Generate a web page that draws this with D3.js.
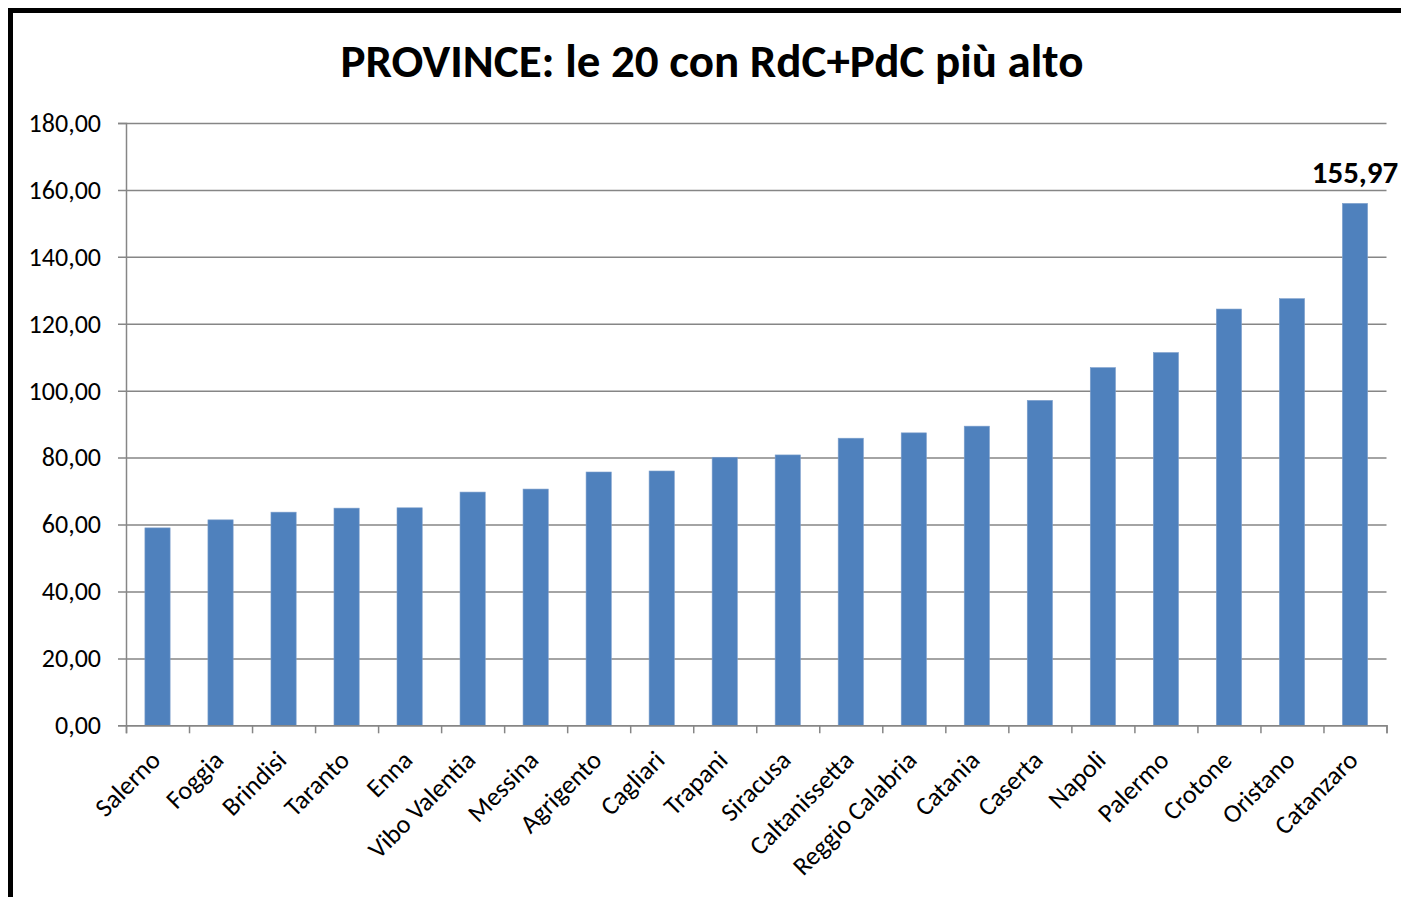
<!DOCTYPE html>
<html>
<head>
<meta charset="utf-8">
<script src="https://cdn.jsdelivr.net/npm/d3@7"></script>
<style>
  body { margin: 0; background: #fff; }
  svg text { font-family: Carlito, Calibri, Lato, sans-serif; fill: #000; }
</style>
</head>
<body>
<svg id="chart" width="1401" height="897"></svg>
<script>
'use strict';
const PROVINCES = ['Salerno', 'Foggia', 'Brindisi', 'Taranto', 'Enna', 'Vibo Valentia',
  'Messina', 'Agrigento', 'Cagliari', 'Trapani', 'Siracusa', 'Caltanissetta',
  'Reggio Calabria', 'Catania', 'Caserta', 'Napoli', 'Palermo', 'Crotone',
  'Oristano', 'Catanzaro'];
const VALUES = [59.0, 61.4, 63.7, 64.9, 65.0, 69.7, 70.6, 75.7, 76.0, 80.1,
  80.8, 85.8, 87.4, 89.4, 97.1, 106.9, 111.4, 124.4, 127.5, 155.97];
const Y_TICKS = [0, 20, 40, 60, 80, 100, 120, 140, 160, 180];
const LABELLED = ['Catanzaro'];
const TITLE = 'PROVINCE: le 20 con RdC+PdC più alto';

const fmt = (v) => v.toFixed(2).replace('.', ',');

const svg = d3.select('#chart');
const margin = { top: 123, left: 126, right: 1401 - 1386.5, bottom: 897 - 725.3 };
const width = 1401 - margin.left - margin.right;
const height = 897 - margin.top - margin.bottom;

// frame
svg.append('rect')
  .attr('x', 10.5).attr('y', 10.5)
  .attr('width', 1500).attr('height', 1000)
  .attr('fill', 'none').attr('stroke', '#000').attr('stroke-width', 5);

svg.append('text')
  .attr('x', 712).attr('y', 77)
  .attr('text-anchor', 'middle')
  .style('font-size', '47px').style('font-weight', 'bold')
  .text(TITLE);

const g = svg.append('g').attr('transform', `translate(${margin.left},${margin.top})`);

const x = d3.scaleBand().domain(PROVINCES).range([0, width]).paddingInner(0.6).paddingOuter(0.3);
const y = d3.scaleLinear().domain([0, 180]).range([height, 0]);

// y axis with gridlines
g.append('g')
  .call(d3.axisLeft(y).tickValues(Y_TICKS).tickFormat(fmt).tickSize(8).tickPadding(17))
  .call((a) => a.select('.domain').attr('stroke', '#868686').attr('stroke-width', 1.5))
  .call((a) => a.selectAll('.tick line').attr('stroke', '#868686').attr('stroke-width', 1.5)
    .attr('x2', width).attr('x1', -8))
  .call((a) => a.selectAll('.tick text').style('font-size', '26px'));

// bars
g.append('g').selectAll('rect')
  .data(VALUES)
  .join('rect')
  .attr('x', (d, i) => x(PROVINCES[i]))
  .attr('y', (d) => y(d))
  .attr('width', x.bandwidth())
  .attr('height', (d) => height - y(d))
  .attr('fill', '#4f81bd')
  .attr('stroke', '#7d9fcc')
  .attr('stroke-width', 0.6);

// x axis: ticks at band boundaries
const xb = d3.scaleLinear().domain([0, PROVINCES.length]).range([0, width]);
g.append('g')
  .attr('transform', `translate(0,${height})`)
  .call(d3.axisBottom(xb).tickValues(d3.range(PROVINCES.length + 1)).tickSize(8).tickFormat(''))
  .call((a) => a.select('.domain').attr('stroke', '#868686').attr('stroke-width', 1.5))
  .call((a) => a.selectAll('.tick line').attr('stroke', '#868686').attr('stroke-width', 1.5));

g.append('g').selectAll('text')
  .data(PROVINCES)
  .join('text')
  .attr('transform', (d) => `translate(${x(d) + x.bandwidth() / 2 - 2},${height + 30}) rotate(-45)`)
  .attr('text-anchor', 'end')
  .attr('dy', '0.35em')
  .style('font-size', '26px')
  .text((d) => d);

// data label
g.append('g').selectAll('text')
  .data(VALUES.filter((d, i) => LABELLED.includes(PROVINCES[i])))
  .join('text')
  .attr('x', (d) => x(PROVINCES[VALUES.indexOf(d)]) + x.bandwidth() / 2)
  .attr('y', (d) => y(d) - 20)
  .attr('text-anchor', 'middle')
  .style('font-size', '31px').style('font-weight', 'bold')
  .text(fmt);
</script>
</body>
</html>
